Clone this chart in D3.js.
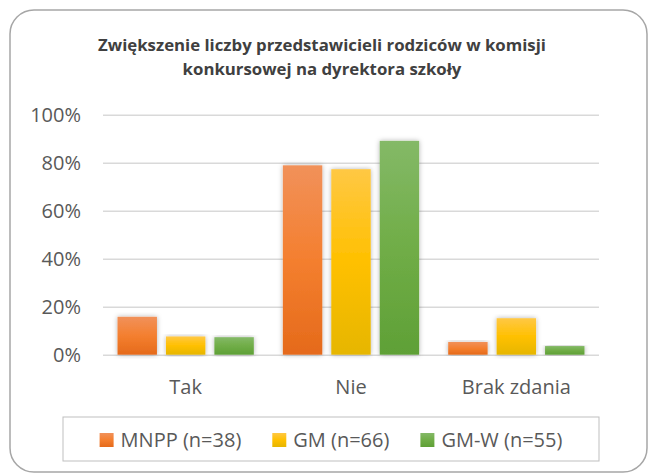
<!DOCTYPE html>
<html>
<head>
<meta charset="utf-8">
<script src="https://cdnjs.cloudflare.com/ajax/libs/d3/7.8.5/d3.min.js"></script>
<style>
  body { margin: 0; background: #fff; }
  text { font-family: "Open Sans", "Noto Sans", sans-serif; fill: #595959; }
</style>
</head>
<body>
<svg width="649" height="474"></svg>
<script>
var categories = ["Tak", "Nie", "Brak zdania"];
var series = ["MNPP (n=38)", "GM (n=66)", "GM-W (n=55)"];
var mnpp = [0.158, 0.789, 0.053];
var gm = [0.076, 0.773, 0.152];
var gmw = [0.073, 0.891, 0.036];
var yTicks = [0, 0.2, 0.4, 0.6, 0.8, 1.0];
var titleLines = ["Zwiększenie liczby przedstawicieli rodziców w komisji",
                  "konkursowej na dyrektora szkoły"];

var values = [mnpp, gm, gmw];
// colours: top, middle, bottom of each bar's gradient
var colors = [
  ["#f1915a", "#f47f2f", "#e56a1b"],
  ["#ffc844", "#ffc000", "#e6b600"],
  ["#84b967", "#70ad47", "#5fa036"]
];

var svg = d3.select("svg");
var defs = svg.append("defs");

colors.forEach(function(c, i) {
  var g = defs.append("linearGradient")
    .attr("id", "grad" + i)
    .attr("x1", 0).attr("y1", 0).attr("x2", 0).attr("y2", 1);
  g.append("stop").attr("offset", "0%").attr("stop-color", c[0]);
  g.append("stop").attr("offset", "50%").attr("stop-color", c[1]);
  g.append("stop").attr("offset", "100%").attr("stop-color", c[2]);
});

var shadow = defs.append("filter").attr("id", "shadow")
  .attr("x", "-30%").attr("y", "-10%").attr("width", "160%").attr("height", "120%");
shadow.append("feDropShadow")
  .attr("dx", 0).attr("dy", 0).attr("stdDeviation", 2.5)
  .attr("flood-color", "#000").attr("flood-opacity", 0.3);

// outer frame
svg.append("rect")
  .attr("x", 10).attr("y", 10)
  .attr("width", 637).attr("height", 462)
  .attr("rx", 24).attr("ry", 24)
  .attr("fill", "#fff")
  .attr("stroke", "#a6a6a6")
  .attr("stroke-width", 1.5);

// title
svg.append("text")
  .attr("x", 322)
  .attr("y", 51)
  .attr("text-anchor", "middle")
  .style("font-weight", "bold")
  .style("font-size", "16.8px")
  .style("fill", "#404040")
  .selectAll("tspan")
  .data(titleLines)
  .enter().append("tspan")
    .attr("x", 322)
    .attr("dy", (d, i) => i === 0 ? 0 : 24)
    .text(d => d);

var x0 = d3.scaleBand()
  .domain(categories)
  .range([103, 599]);

var x1 = d3.scaleBand()
  .domain(d3.range(series.length))
  .range([0, x0.bandwidth()])
  .paddingInner(0.186)
  .paddingOuter(0.3);

var y = d3.scaleLinear()
  .domain([0, 1])
  .range([354.7, 114.7]);

// gridlines
svg.append("g")
  .attr("transform", "translate(103,0)")
  .call(d3.axisLeft(y).tickValues(yTicks).tickSize(-496).tickFormat(""))
  .call(g => g.select(".domain").remove())
  .call(g => g.selectAll("line").attr("stroke", "#d9d9d9").attr("stroke-width", 1.5));

// y labels
svg.append("g")
  .attr("transform", "translate(81,0)")
  .call(d3.axisLeft(y).tickValues(yTicks).tickSize(0).tickPadding(0).tickFormat(d3.format(".0%")))
  .call(g => g.select(".domain").remove())
  .call(g => g.selectAll("text")
    .style("font-size", "20px")
    .style("font-family", "'Open Sans', sans-serif")
    .attr("fill", "#595959"));

// bars
var groups = svg.append("g").selectAll("g")
  .data(categories)
  .enter().append("g")
    .attr("transform", d => "translate(" + x0(d) + ",0)");

groups.selectAll("rect")
  .data((d, ci) => values.map((s, si) => ({ si: si, v: s[ci] })))
  .enter().append("rect")
    .attr("x", d => x1(d.si))
    .attr("y", d => y(d.v))
    .attr("width", x1.bandwidth())
    .attr("height", d => y(0) - y(d.v))
    .attr("fill", d => "url(#grad" + d.si + ")")
    .attr("filter", "url(#shadow)");

// x labels
svg.append("g")
  .attr("transform", "translate(0,380)")
  .call(d3.axisBottom(x0).tickSize(0).tickPadding(0))
  .call(g => g.select(".domain").remove())
  .call(g => g.selectAll("text")
    .style("font-size", "20px")
    .style("font-family", "'Open Sans', sans-serif")
    .attr("fill", "#595959"));

// legend
svg.append("rect")
  .attr("x", 63).attr("y", 417)
  .attr("width", 536).attr("height", 44)
  .attr("fill", "#fff")
  .attr("stroke", "#bfbfbf")
  .attr("stroke-width", 1);

var legend = svg.append("g");
var items = legend.selectAll("g")
  .data(series)
  .enter().append("g");

items.append("rect")
  .attr("width", 14).attr("height", 14)
  .attr("y", 433)
  .attr("fill", (d, i) => "url(#grad" + i + ")");

items.append("text")
  .attr("x", 21)
  .attr("y", 446.5)
  .style("font-size", "20px")
  .text(d => d);

var pos = 0, gap = 31;
items.each(function() {
  var w = this.querySelector("text").getComputedTextLength() + 21;
  d3.select(this).attr("transform", "translate(" + pos + ",0)");
  pos += w + gap;
});
var total = pos - gap;
legend.attr("transform", "translate(" + (331 - total / 2) + ",0)");
</script>
</body>
</html>
